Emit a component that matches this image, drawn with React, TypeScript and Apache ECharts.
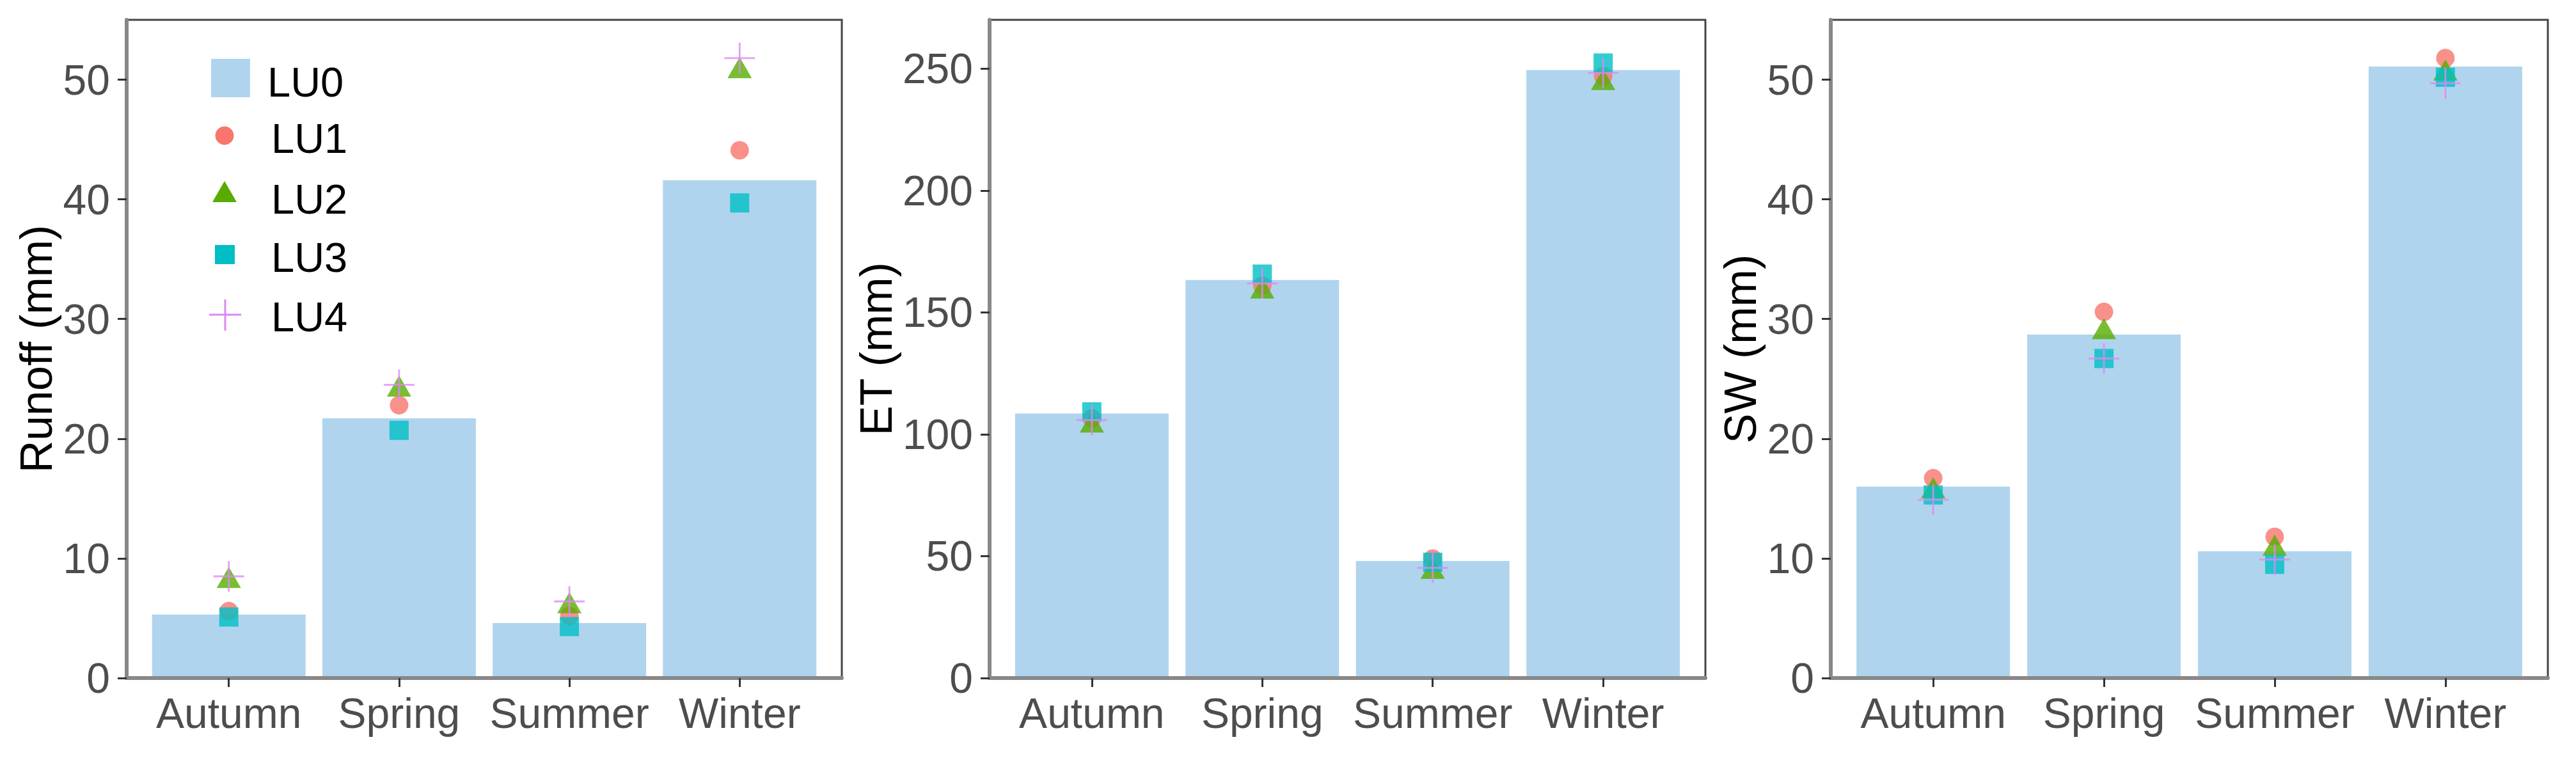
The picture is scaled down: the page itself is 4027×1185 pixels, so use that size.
import React, { useEffect, useRef } from 'react';
import * as echarts from 'echarts';

// ---------- data ----------
const categories = ['Autumn', 'Spring', 'Summer', 'Winter'];
const seriesNames = ['LU0', 'LU1', 'LU2', 'LU3', 'LU4'];

const runoffLU0 = [5.3, 21.7, 4.6, 41.6];
const runoffLU1 = [5.6, 22.8, 5.2, 44.1];
const runoffLU2 = [8.4, 24.4, 6.3, 51.0];
const runoffLU3 = [5.1, 20.7, 4.3, 39.7];
const runoffLU4 = [8.5, 24.5, 6.4, 51.8];

const etLU0 = [108.5, 163.3, 48.0, 249.4];
const etLU1 = [106.5, 161.0, 49.0, 247.0];
const etLU2 = [105.0, 160.0, 45.0, 245.5];
const etLU3 = [109.2, 165.7, 47.5, 252.3];
const etLU4 = [105.8, 161.9, 45.2, 248.2];

const swLU0 = [16.0, 28.7, 10.6, 51.1];
const swLU1 = [16.7, 30.6, 11.8, 51.8];
const swLU2 = [15.9, 29.2, 11.1, 50.8];
const swLU3 = [15.3, 26.7, 9.5, 50.2];
const swLU4 = [14.9, 26.7, 9.9, 49.7];

const runoffTicks = [0, 10, 20, 30, 40, 50];
const etTicks = [0, 50, 100, 150, 200, 250];
const swTicks = [0, 10, 20, 30, 40, 50];

const yTitles = ['Runoff (mm)', 'ET (mm)', 'SW (mm)'];

// ---------- styles ----------
const FONT = 'Liberation Sans, Arial, sans-serif';
const BAR_COLOR = '#B0D4EE';
const C1 = '#F8766D';
const C2 = '#58AC00';
const C3 = '#00BFC4';
const C4 = '#DD88F5';
const CROSS = 'path://M4.7,0 L5.3,0 L5.3,4.7 L10,4.7 L10,5.3 L5.3,5.3 L5.3,10 L4.7,10 L4.7,5.3 L0,5.3 L0,4.7 L4.7,4.7 Z';

const panels = [
  { left: 198, width: 1118, max: 55, interval: 10, ticks: runoffTicks, gap: 106,
    data: [runoffLU0, runoffLU1, runoffLU2, runoffLU3, runoffLU4] },
  { left: 1547, width: 1119, max: 270, interval: 50, ticks: etTicks, gap: 142,
    data: [etLU0, etLU1, etLU2, etLU3, etLU4] },
  { left: 2862, width: 1121, max: 55, interval: 10, ticks: swTicks, gap: 106,
    data: [swLU0, swLU1, swLU2, swLU3, swLU4] },
];
const TOP = 31;
const HEIGHT = 1029;

function buildOption() {
  const grid: any[] = [];
  const xAxis: any[] = [];
  const yAxis: any[] = [];
  const series: any[] = [];

  panels.forEach((p, i) => {
    grid.push({
      left: p.left, top: TOP, width: p.width, height: HEIGHT,
      show: true, borderColor: '#444444', borderWidth: 3, backgroundColor: 'transparent',
      containLabel: false,
    });
    const catValues = categories.map((_, k) => k + 1);
    xAxis.push({
      gridIndex: i, type: 'value', min: 0.4, max: 4.6, z: 5,
      splitLine: { show: false },
      axisLine: { show: true, onZero: false, lineStyle: { color: '#888888', width: 6 } },
      axisTick: { show: true, length: 14, customValues: catValues, lineStyle: { color: '#333333', width: 3 } },
      axisLabel: {
        show: true, customValues: catValues, margin: 22,
        fontSize: 66, lineHeight: 66, color: '#4D4D4D', fontFamily: FONT,
        formatter: (v: number) => categories[Math.round(v) - 1] ?? '',
      },
    });
    yAxis.push({
      gridIndex: i, type: 'value', min: 0, max: p.max, interval: p.interval, z: 5,
      name: yTitles[i], nameLocation: 'middle', nameGap: p.gap,
      nameTextStyle: { fontSize: 70, color: '#000000', fontFamily: FONT },
      splitLine: { show: false },
      axisLine: { show: true, onZero: false, lineStyle: { color: '#888888', width: 6 } },
      axisTick: { show: true, length: 14, customValues: p.ticks, lineStyle: { color: '#333333', width: 3 } },
      axisLabel: {
        show: true, customValues: p.ticks, margin: 26,
        fontSize: 66, color: '#4D4D4D', fontFamily: FONT,
      },
    });
    const toPts = (arr: number[]) => arr.map((v, k) => [k + 1, v]);
    const barWidth = Math.round((0.9 * p.width) / 4.2);
    series.push({
      type: 'bar', name: seriesNames[0], xAxisIndex: i, yAxisIndex: i,
      data: toPts(p.data[0]), barWidth, itemStyle: { color: BAR_COLOR }, z: 2,
    });
    series.push({
      type: 'scatter', name: seriesNames[1], xAxisIndex: i, yAxisIndex: i,
      data: toPts(p.data[1]), symbol: 'circle', symbolSize: 29, itemStyle: { color: C1 }, z: 3,
    });
    series.push({
      type: 'scatter', name: seriesNames[2], xAxisIndex: i, yAxisIndex: i,
      data: toPts(p.data[2]), symbol: 'triangle', symbolSize: [38, 33], itemStyle: { color: C2 }, z: 3,
    });
    series.push({
      type: 'scatter', name: seriesNames[3], xAxisIndex: i, yAxisIndex: i,
      data: toPts(p.data[3]), symbol: 'rect', symbolSize: 30, itemStyle: { color: C3 }, z: 3,
    });
    series.push({
      type: 'scatter', name: seriesNames[4], xAxisIndex: i, yAxisIndex: i,
      data: toPts(p.data[4]), symbol: CROSS, symbolSize: 48, itemStyle: { color: C4 }, z: 3,
    });
  });

  const legendText = (text: string, x: number, y: number) => ({
    type: 'text', x, y,
    style: { text, fontSize: 65, fill: '#000000', fontFamily: FONT, align: 'left', verticalAlign: 'middle' },
    z: 10,
  });

  const graphic: any[] = [
    { type: 'rect', shape: { x: 330, y: 92, width: 61, height: 60 }, style: { fill: BAR_COLOR }, z: 10 },
    legendText(seriesNames[0], 418, 128),
    { type: 'circle', shape: { cx: 351, cy: 212, r: 14.5 }, style: { fill: C1 }, z: 10 },
    legendText(seriesNames[1], 424, 216),
    { type: 'polygon', shape: { points: [[351, 283], [332, 316], [370, 316]] }, style: { fill: C2 }, z: 10 },
    legendText(seriesNames[2], 424, 311),
    { type: 'rect', shape: { x: 336, y: 383, width: 31, height: 30 }, style: { fill: C3 }, z: 10 },
    legendText(seriesNames[3], 424, 402),
    { type: 'line', shape: { x1: 327, y1: 492, x2: 377, y2: 492 }, style: { stroke: C4, lineWidth: 3 }, z: 10 },
    { type: 'line', shape: { x1: 352, y1: 468, x2: 352, y2: 517 }, style: { stroke: C4, lineWidth: 3 }, z: 10 },
    legendText(seriesNames[4], 424, 495),
  ];

  return {
    animation: false,
    backgroundColor: '#ffffff',
    textStyle: { fontFamily: FONT },
    grid, xAxis, yAxis, series, graphic,
  };
}

export default function App() {
  const ref = useRef<HTMLDivElement>(null);
  useEffect(() => {
    if (!ref.current) return;
    const chart = echarts.init(ref.current, undefined, { renderer: 'svg' });
    chart.setOption(buildOption());
    return () => chart.dispose();
  }, []);
  return (
    <div
      ref={ref}
      style={{ position: 'absolute', left: 0, top: 0, width: 4027, height: 1185, background: '#fff' }}
    />
  );
}
